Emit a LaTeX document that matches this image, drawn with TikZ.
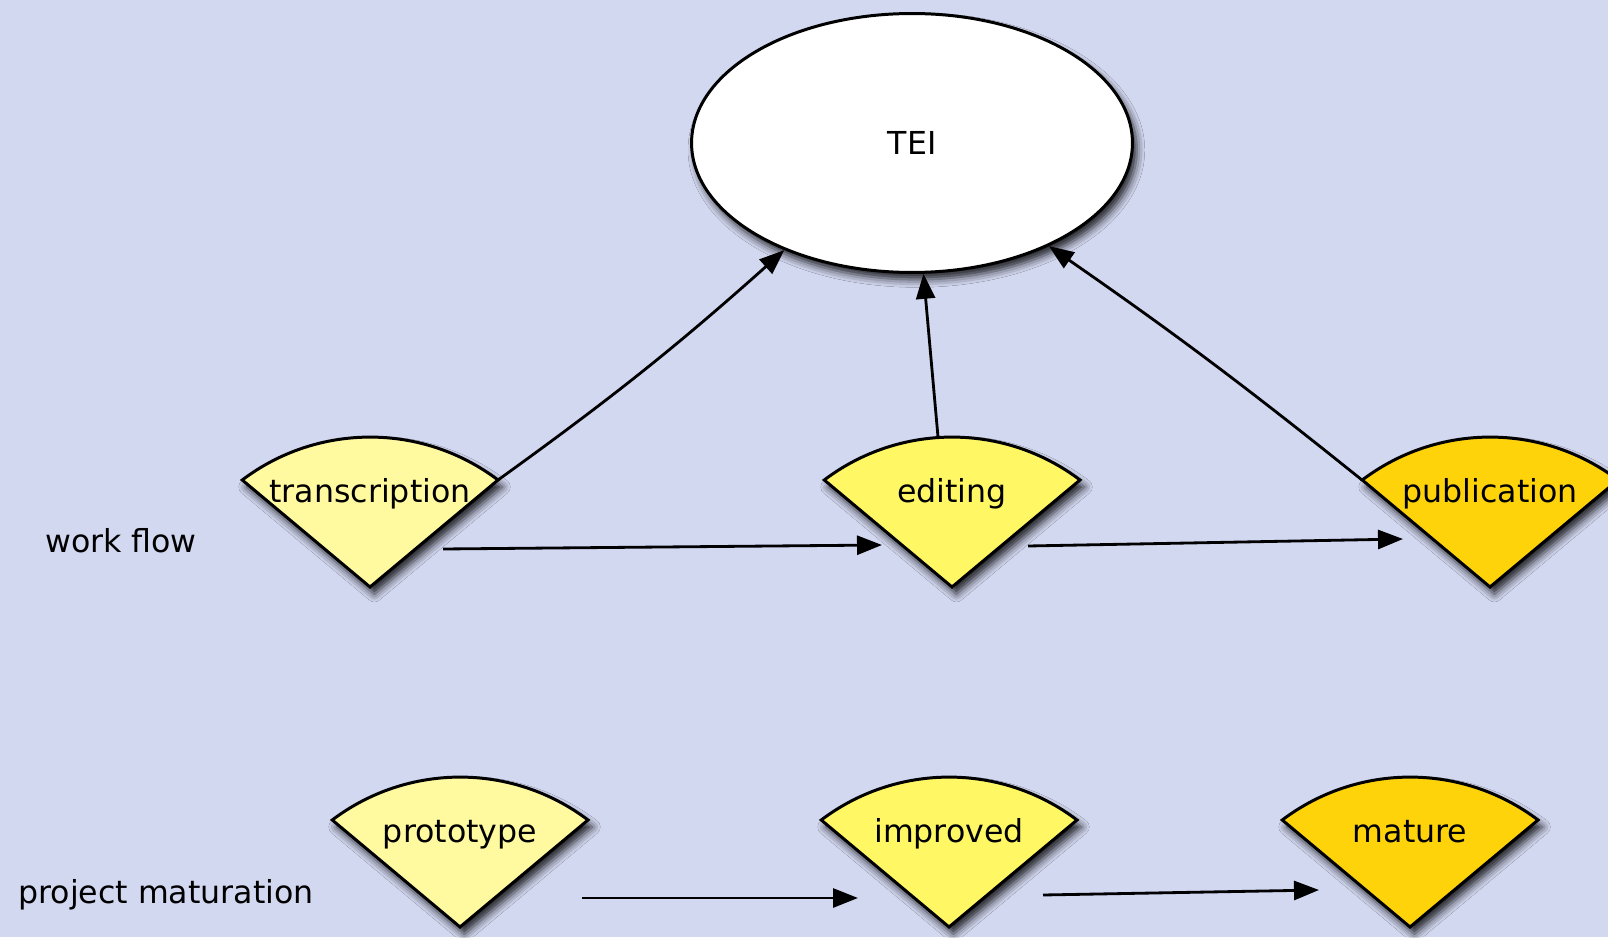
\documentclass[tikz,border=0pt]{standalone}
\usepackage{fontspec}
\setmainfont{DejaVu Sans}
\usepackage{tikz}
\usetikzlibrary{shapes.geometric,arrows.meta,shadows.blur}

\definecolor{backdrop}{RGB}{211,216,241}
\definecolor{paleyellow}{RGB}{255,249,160}
\definecolor{brightyellow}{RGB}{255,247,100}
\definecolor{gold}{RGB}{255,211,10}

\tikzset{
  softshadow/.style={blur shadow={shadow xshift=2.5pt, shadow yshift=-4pt, shadow blur radius=4.5pt, shadow opacity=85}},
  stagewedge/.style={draw, line width=1.7pt, softshadow},
  stage/.style={anchor=base, inner sep=0pt},
  rowlabel/.style={anchor=base, inner sep=0pt},
  connector/.style={line width=1.6pt}
}

\begin{document}
\begin{tikzpicture}[x=0.02cm, y=0.02cm, font=\fontsize{18pt}{22pt}\selectfont,
  >={Triangle[length=0.5cm, width=0.38cm, fill=black]}]
  \clip (0,0) rectangle (1608,937);
  \fill[backdrop] (0,0) rectangle (1608,937);

  % the common target
  \node[ellipse, draw, fill=white, line width=1.7pt, minimum width=8.82cm, minimum height=5.18cm, softshadow] (tei) at (912,794) {TEI};

  % tips of the wedges
  \coordinate (transcription-tip) at (370,350);
  \coordinate (editing-tip) at (952,350);
  \coordinate (publication-tip) at (1490,350);
  \coordinate (prototype-tip) at (460,10);
  \coordinate (improved-tip) at (949,10);
  \coordinate (mature-tip) at (1410,10);

  \draw[stagewedge, fill=paleyellow] (transcription-tip) -- ++(128,107) arc[start angle=52.9, end angle=127.1, radius=212] -- cycle;
  \draw[stagewedge, fill=brightyellow] (editing-tip) -- ++(128,107) arc[start angle=52.9, end angle=127.1, radius=212] -- cycle;
  \draw[stagewedge, fill=gold] (publication-tip) -- ++(128,107) arc[start angle=52.9, end angle=127.1, radius=212] -- cycle;
  \draw[stagewedge, fill=paleyellow] (prototype-tip) -- ++(128,107) arc[start angle=52.9, end angle=127.1, radius=212] -- cycle;
  \draw[stagewedge, fill=brightyellow] (improved-tip) -- ++(128,107) arc[start angle=52.9, end angle=127.1, radius=212] -- cycle;
  \draw[stagewedge, fill=gold] (mature-tip) -- ++(128,107) arc[start angle=52.9, end angle=127.1, radius=212] -- cycle;

  \node[stage] (transcription) at (370,435) {transcription};
  \node[stage] (editing) at (952,435) {editing};
  \node[stage] (publication) at (1490,435) {publication};
  \node[stage] (prototype) at (460,95) {prototype};
  \node[stage] (improved) at (949,95) {improved};
  \node[stage] (mature) at (1410,95) {mature};

  \node[rowlabel] (workflow) at (121,384) {work flow};
  \node[rowlabel] (maturation) at (166,34) {project maturation};

  \path[->, connector]
  ([shift={(73,38)}]transcription-tip) edge ([shift={(-70,42)}]editing-tip)
  ([shift={(76,41)}]editing-tip) edge ([shift={(-87,48)}]publication-tip)
  ([shift={(122,29)}]prototype-tip) edge ([shift={(-91,29)}]improved-tip)
  ([shift={(94,32)}]improved-tip) edge ([shift={(-91,37)}]mature-tip)
  ([shift={(128,107)}]transcription-tip) edge[bend right=3] (tei.220)
  ([shift={(-14,150)}]editing-tip) edge (tei.275)
  ([shift={(-128,107)}]publication-tip) edge[bend right=2] (tei.323)
  ;
\end{tikzpicture}
\end{document}
